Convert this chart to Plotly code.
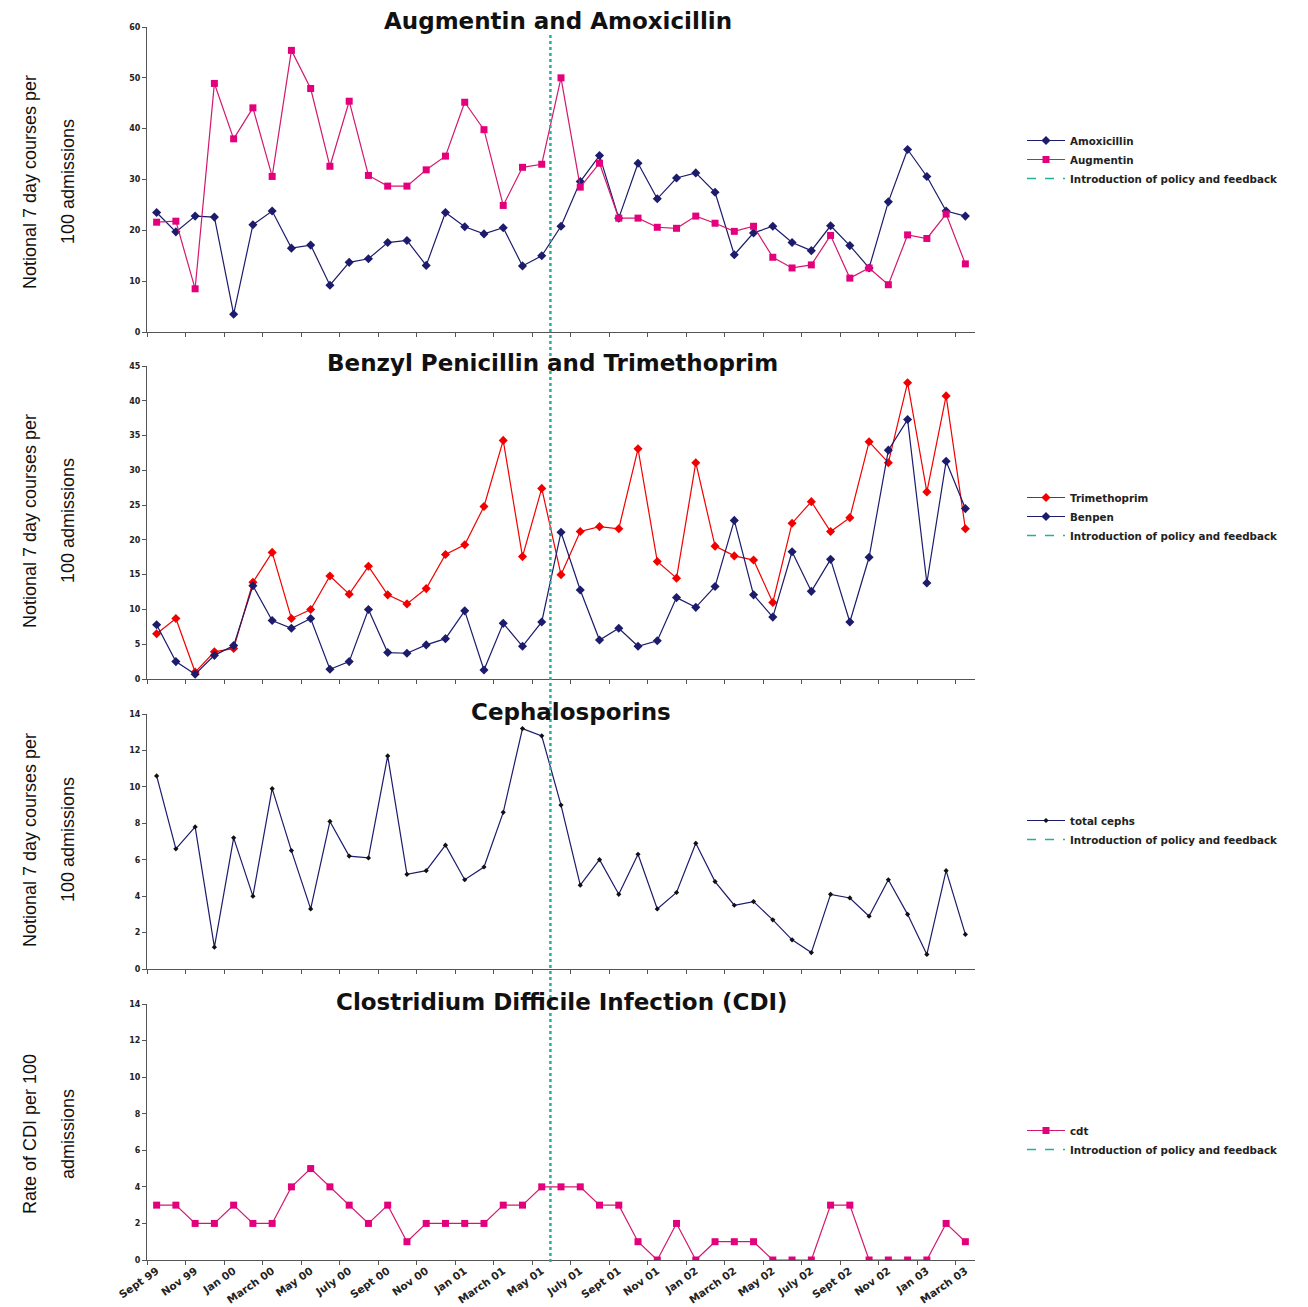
import plotly.graph_objects as go

# ---------------- data ----------------
months = [
    "Sept 99", "Oct 99", "Nov 99", "Dec 99", "Jan 00", "Feb 00", "March 00", "April 00",
    "May 00", "June 00", "July 00", "Aug 00", "Sept 00", "Oct 00", "Nov 00", "Dec 00",
    "Jan 01", "Feb 01", "March 01", "April 01", "May 01", "June 01", "July 01", "Aug 01",
    "Sept 01", "Oct 01", "Nov 01", "Dec 01", "Jan 02", "Feb 02", "March 02", "April 02",
    "May 02", "June 02", "July 02", "Aug 02", "Sept 02", "Oct 02", "Nov 02", "Dec 02",
    "Jan 03", "Feb 03", "March 03",
]

amoxicillin = [23.5, 19.7, 22.8, 22.6, 3.5, 21.1, 23.8, 16.5, 17.1, 9.2, 13.7, 14.4, 17.6, 18.0,
               13.1, 23.5, 20.7, 19.3, 20.5, 13.0, 15.0, 20.8, 29.6, 34.7, 22.4, 33.2, 26.2, 30.3,
               31.3, 27.5, 15.2, 19.5, 20.8, 17.6, 16.0, 20.9, 17.0, 12.6, 25.6, 35.9, 30.6, 23.8, 22.8]
augmentin = [21.6, 21.8, 8.5, 48.9, 38.0, 44.1, 30.6, 55.4, 47.9, 32.6, 45.4, 30.8, 28.7, 28.7,
             31.9, 34.6, 45.2, 39.8, 24.9, 32.4, 33.0, 50.0, 28.5, 33.2, 22.4, 22.4, 20.6, 20.4,
             22.8, 21.4, 19.8, 20.8, 14.7, 12.6, 13.2, 19.0, 10.6, 12.6, 9.3, 19.1, 18.4, 23.2, 13.4]

trimethoprim = [6.5, 8.7, 1.0, 3.9, 4.4, 13.9, 18.2, 8.7, 10.0, 14.8, 12.2, 16.2, 12.1, 10.8,
                13.0, 17.9, 19.3, 24.8, 34.3, 17.6, 27.4, 15.0, 21.2, 21.9, 21.6, 33.1, 16.9, 14.5,
                31.1, 19.1, 17.7, 17.1, 11.0, 22.4, 25.5, 21.2, 23.2, 34.1, 31.1, 42.6, 26.9, 40.7, 21.6]
benpen = [7.8, 2.5, 0.7, 3.4, 4.8, 13.4, 8.4, 7.3, 8.7, 1.4, 2.5, 10.0, 3.8, 3.7,
          4.9, 5.8, 9.8, 1.3, 8.0, 4.7, 8.2, 21.1, 12.8, 5.6, 7.3, 4.7, 5.5, 11.7,
          10.3, 13.3, 22.8, 12.1, 8.9, 18.3, 12.6, 17.2, 8.2, 17.5, 32.9, 37.3, 13.8, 31.3, 24.5]

total_cephs = [10.6, 6.6, 7.8, 1.2, 7.2, 4.0, 9.9, 6.5, 3.3, 8.1, 6.2, 6.1, 11.7, 5.2,
               5.4, 6.8, 4.9, 5.6, 8.6, 13.2, 12.8, 9.0, 4.6, 6.0, 4.1, 6.3, 3.3, 4.2,
               6.9, 4.8, 3.5, 3.7, 2.7, 1.6, 0.9, 4.1, 3.9, 2.9, 4.9, 3.0, 0.8, 5.4, 1.9]

cdt = [3, 3, 2, 2, 3, 2, 2, 4, 5, 4, 3, 2, 3, 1, 2, 2, 2, 2, 3, 3, 4, 4,
       4, 3, 3, 1, 0, 2, 0, 1, 1, 1, 0, 0, 0, 3, 3, 0, 0, 0, 0, 2, 1]

# policy introduced between May 01 and June 01 (category index position)
policy_pos = 20.45
policy_label = "Introduction of policy and feedback"

titles = ["Augmentin and Amoxicillin", "Benzyl Penicillin and Trimethoprim",
          "Cephalosporins", "Clostridium Difficile Infection (CDI)"]
ytitles = [("Notional 7 day courses per", "100 admissions"),
           ("Notional 7 day courses per", "100 admissions"),
           ("Notional 7 day courses per", "100 admissions"),
           ("Rate of CDI per 100", "admissions")]

# ---------------- style ----------------
NAVY = "#1c1b6c"
PINK = "#e4007c"
PINK_LINE = "#d3186f"
RED = "#f20000"
TEAL = "#1fb39c"
AXIS = "#555555"
WIDE = "DejaVu Sans, Verdana, sans-serif"
TICKFONT = dict(family=WIDE, size=8, color="#222", weight="bold")
XTICKFONT = dict(family=WIDE, size=10.5, color="#222", weight="bold")
LEGFONT = dict(family=WIDE, size=10.3, color="#222", weight="bold")
TITLEFONT = dict(family=WIDE, size=23, color="#111", weight="bold")
YTFONT = dict(family="Liberation Sans Narrow, Arial Narrow, Liberation Sans, sans-serif",
              size=18, color="#111")

# page offset (browser body margin) and target plot-area pixels (screen coords)
OFF = 8
W, H = 1300, 1299
PL, PR, PT, PB = 147, 975, 27, 1260
ML, MT = PL - OFF, PT - OFF
MR, MB = W - (PR - OFF), H - (PB - OFF)


def py(s):  # screen y -> paper y
    return (PB - s) / (PB - PT)


def px(s):  # screen x -> paper x
    return (s - PL) / (PR - PL)


domains = [(py(332), py(27)), (py(679), py(366)), (py(969), py(714)), (py(1260), py(1004))]
yranges = [[0, 60], [0, 45], [0, 14], [0, 14]]
ydticks = [10, 5, 2, 2]

fig = go.Figure()

# ---- panel 1 ----
fig.add_trace(go.Scatter(x=months, y=amoxicillin, name="Amoxicillin", mode="lines+markers",
                         line=dict(color=NAVY, width=1.2),
                         marker=dict(symbol="diamond", size=7, color=NAVY),
                         xaxis="x", yaxis="y", legend="legend"))
fig.add_trace(go.Scatter(x=months, y=augmentin, name="Augmentin", mode="lines+markers",
                         line=dict(color=PINK_LINE, width=1.2),
                         marker=dict(symbol="square", size=7, color=PINK),
                         xaxis="x", yaxis="y", legend="legend"))
# ---- panel 2 ----
fig.add_trace(go.Scatter(x=months, y=trimethoprim, name="Trimethoprim", mode="lines+markers",
                         line=dict(color=RED, width=1.2),
                         marker=dict(symbol="diamond", size=7, color=RED),
                         xaxis="x2", yaxis="y2", legend="legend2"))
fig.add_trace(go.Scatter(x=months, y=benpen, name="Benpen", mode="lines+markers",
                         line=dict(color=NAVY, width=1.2),
                         marker=dict(symbol="diamond", size=7, color=NAVY),
                         xaxis="x2", yaxis="y2", legend="legend2"))
# ---- panel 3 ----
fig.add_trace(go.Scatter(x=months, y=total_cephs, name="total cephs", mode="lines+markers",
                         line=dict(color=NAVY, width=1.2),
                         marker=dict(symbol="diamond", size=4, color="#111"),
                         xaxis="x3", yaxis="y3", legend="legend3"))
# ---- panel 4 ----
fig.add_trace(go.Scatter(x=months, y=cdt, name="cdt", mode="lines+markers",
                         line=dict(color=PINK_LINE, width=1.2),
                         marker=dict(symbol="square", size=7, color=PINK),
                         xaxis="x4", yaxis="y4", legend="legend4"))

# legend entries for the policy line
for i, lg in enumerate(["legend", "legend2", "legend3", "legend4"]):
    sfx = "" if i == 0 else str(i + 1)
    fig.add_trace(go.Scatter(x=[None], y=[None], name=policy_label, mode="lines",
                             line=dict(color=TEAL, width=1.5, dash="dash"),
                             xaxis="x" + sfx, yaxis="y" + sfx, legend=lg))

layout = dict(width=W, height=H, autosize=False,
              margin=dict(l=ML, r=MR, t=MT, b=MB),
              paper_bgcolor="white", plot_bgcolor="white", showlegend=True)

legend_tops = [126, 483, 806, 1116]
for i in range(4):
    sfx = "" if i == 0 else str(i + 1)
    layout["xaxis" + sfx] = dict(
        type="category", categoryorder="array", categoryarray=months,
        range=[-0.5, len(months) - 0.5], domain=[0, 1], anchor="y" + sfx,
        showline=True, linecolor=AXIS, linewidth=1, mirror=False,
        ticks="outside", ticklen=4, tickcolor=AXIS, tickson="boundaries",
        tickmode="linear", tick0=0, dtick=2,
        showgrid=False, zeroline=False,
        showticklabels=(i == 3), tickangle=-35, tickfont=XTICKFONT,
        automargin=False)
    layout["yaxis" + sfx] = dict(
        range=yranges[i], domain=list(domains[i]), anchor="x" + sfx,
        showline=True, linecolor=AXIS, linewidth=1,
        ticks="outside", ticklen=4, tickcolor=AXIS, dtick=ydticks[i], tick0=0,
        showgrid=False, zeroline=False, tickfont=TICKFONT, automargin=False)
    lkey = "legend" if i == 0 else "legend" + str(i + 1)
    layout[lkey] = dict(x=px(1022), y=py(legend_tops[i]), xanchor="left", yanchor="top",
                        font=LEGFONT, bgcolor="rgba(0,0,0,0)", tracegroupgap=0,
                        itemwidth=38)

fig.update_layout(**layout)

# policy line (spans all panels)
fig.add_shape(type="line", xref="x4", yref="paper", x0=policy_pos, x1=policy_pos,
              y0=py(1262), y1=py(35), line=dict(color=TEAL, width=2.5, dash="dot"))

# panel titles
title_pos = [(558, 21), (552, 363), (571, 712), (562, 1002)]
for t, (tx, ty) in zip(titles, title_pos):
    fig.add_annotation(text=t, xref="paper", yref="paper", x=px(tx), y=py(ty),
                       xanchor="center", yanchor="middle", showarrow=False, font=TITLEFONT)

# y-axis titles (two lines each)
ytitle_centers = [182, 521, 840, 1134]
for (l1, l2), cy in zip(ytitles, ytitle_centers):
    fig.add_annotation(text=l1, xref="paper", yref="paper", x=px(30), y=py(cy),
                       xanchor="center", yanchor="middle", textangle=-90,
                       showarrow=False, font=YTFONT)
    fig.add_annotation(text=l2, xref="paper", yref="paper", x=px(68), y=py(cy),
                       xanchor="center", yanchor="middle", textangle=-90,
                       showarrow=False, font=YTFONT)

fig.write_html("out.html")
